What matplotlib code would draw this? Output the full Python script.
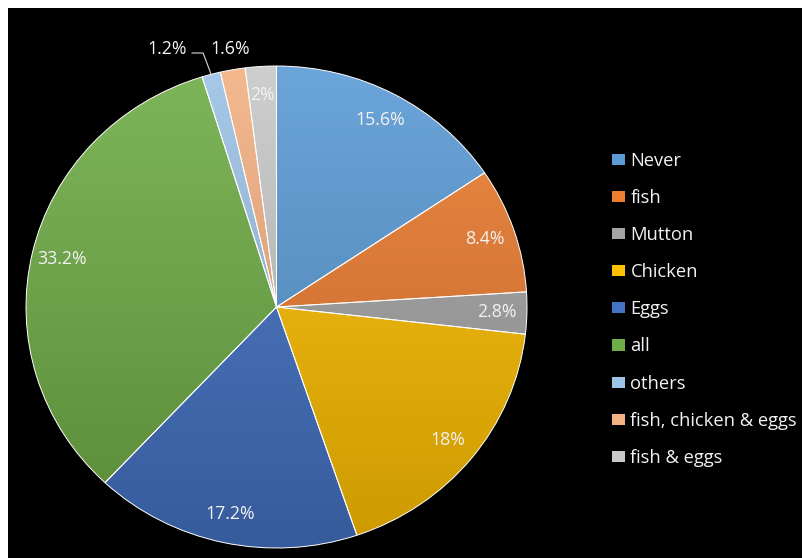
import numpy as np
import matplotlib
matplotlib.use("Agg")
import matplotlib.pyplot as plt
from matplotlib.patches import Patch, Rectangle
from matplotlib.colors import to_rgb

# ---------- DATA ----------
labels = ["Never", "fish", "Mutton", "Chicken", "Eggs", "all", "others",
          "fish, chicken & eggs", "fish & eggs"]
values = [15.6, 8.4, 2.8, 18, 17.2, 33.2, 1.2, 1.6, 2]
pct_text = ["15.6%", "8.4%", "2.8%", "18%", "17.2%", "33.2%", "1.2%", "1.6%", "2%"]
colors = ["#5B9BD5", "#ED7D31", "#A5A5A5", "#FFC000", "#4472C4",
          "#70AD47", "#9DC3E6", "#F4B183", "#C9C9C9"]
# --------------------------

plt.rcParams['font.family'] = ['Open Sans', 'DejaVu Sans']
W, H = 803, 558
TXT = "#F2F2F2"
FS = 12.8

fig = plt.figure(figsize=(W / 100, H / 100), dpi=100)
fig.patch.set_facecolor("white")
fig.add_artist(Rectangle((8 / W, 0), 1, 1 - 8 / H, transform=fig.transFigure,
                         facecolor="black", edgecolor="none", zorder=0))

ax = fig.add_axes([26 / W, 10 / H, 501 / W, 482 / H])
wedges, _ = ax.pie(values, startangle=90, counterclock=False, radius=1,
                   wedgeprops=dict(edgecolor="white", linewidth=0.7))
ax.set_aspect("auto")
ax.set_xlim(-1, 1)
ax.set_ylim(-1, 1)
ax.axis("off")

# vertical gradient fill, lighter at top, darker at bottom
t = np.linspace(0, 1, 256)[:, None, None]
for w, c in zip(wedges, colors):
    base = np.array(to_rgb(c))
    top = base + (1 - base) * 0.1
    bot = base * 0.8
    grad = top * (1 - t) + bot * t
    im = ax.imshow(grad, extent=(-1, 1, -1, 1), aspect="auto", zorder=1)
    im.set_clip_path(w)
    w.set_facecolor("none")
    w.set_zorder(2)

# labels
cum = np.cumsum([0] + values)
mids = np.deg2rad(90 - (cum[:-1] + cum[1:]) / 2 * 3.6)
for i, txt in enumerate(pct_text):
    if i in (6, 7):
        continue
    ax.text(0.88 * np.cos(mids[i]), 0.88 * np.sin(mids[i]), txt, color=TXT,
            fontsize=FS, ha="center", va="center", zorder=5)

# small slices, labels outside
ax.text(-0.437, 1.071, pct_text[6], color=TXT, fontsize=FS,
        ha="center", va="center", clip_on=False)
ax.text(-0.184, 1.071, pct_text[7], color=TXT, fontsize=FS,
        ha="center", va="center", clip_on=False)
ax.plot([-0.337, -0.293, np.cos(mids[6])], [1.054, 1.054, np.sin(mids[6])],
        color="#D9D9D9", lw=0.8, clip_on=False, zorder=5)

handles = [Patch(facecolor=c, edgecolor="none", label=l) for c, l in zip(colors, labels)]
leg = fig.legend(handles=handles, loc="upper left",
                 bbox_to_anchor=(603 / W, 1 - 143 / H), frameon=False,
                 fontsize=13.2, handlelength=0.7, handleheight=0.55,
                 handletextpad=0.3, labelspacing=1.04, borderpad=0)
for tx in leg.get_texts():
    tx.set_color(TXT)

fig.savefig("out.png", dpi=100, facecolor=fig.get_facecolor())
